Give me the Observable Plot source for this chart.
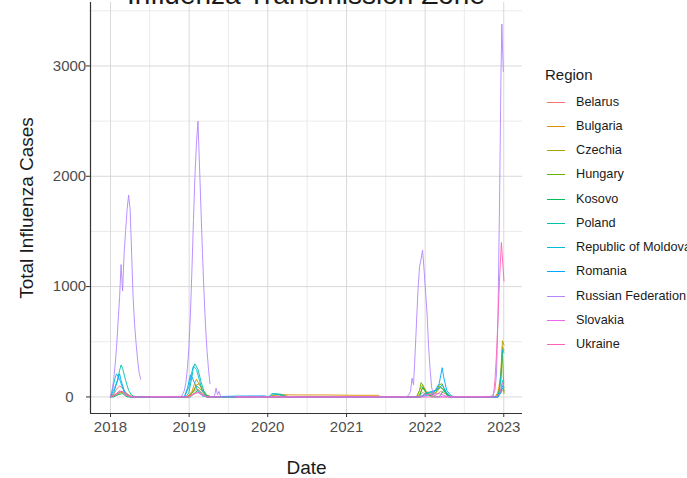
<!DOCTYPE html>
<html>
<head>
<meta charset="utf-8">
<script src="https://cdn.jsdelivr.net/npm/d3@7"></script>
<script src="https://cdn.jsdelivr.net/npm/@observablehq/plot@0.6"></script>
<style>
  html, body { margin: 0; padding: 0; background: #fff; overflow: hidden; }
  #wrap { position: relative; width: 687px; height: 478px; font-family: "Liberation Sans", Arial, sans-serif; }
  #title { position: absolute; left: 0; width: 612px; top: -19px; text-align: center; font-size: 28px; line-height: 28px; color: #1a1a1a; white-space: nowrap; }
  .leg { position: absolute; font-size: 12.7px; line-height: 16px; color: #1a1a1a; white-space: nowrap; }
  .legtitle { position: absolute; font-size: 15px; line-height: 18px; color: #1a1a1a; }
  .key { position: absolute; height: 1px; width: 18px; }
</style>
</head>
<body>
<div id="wrap"><div id="title">Influenza Transmission Zone</div></div>
<script>
const regions = ["Belarus","Bulgaria","Czechia","Hungary","Kosovo","Poland","Republic of Moldova","Romania","Russian Federation","Slovakia","Ukraine"];
const colors = ["#F8766D","#DB8E00","#AEA200","#64B200","#00BD5C","#00C1A7","#00BADE","#00A6FF","#B385FF","#EF67EB","#FF63B6"];
const yearTicks = ["2018-01-01","2019-01-01","2020-01-01","2021-01-01","2022-01-01","2023-01-01"];
const yTicks = [0, 1000, 2000, 3000];

const belarus = [
["2018-01-01",0],["2018-01-15",20],["2018-01-29",70],["2018-02-12",100],["2018-02-26",80],["2018-03-12",40],["2018-03-26",10],["2018-04-16",0],
["2018-12-17",0],["2019-01-07",20],["2019-01-28",60],["2019-02-11",70],["2019-03-04",30],["2019-03-25",5],["2019-04-15",0],
["2021-11-29",0],["2021-12-20",40],["2022-01-10",20],["2022-02-14",10],["2022-03-14",50],["2022-04-04",30],["2022-04-25",0],
["2022-11-28",0],["2022-12-12",20],["2022-12-26",60],["2023-01-02",50]];
const bulgaria = [
["2018-01-01",0],["2018-01-29",20],["2018-02-19",50],["2018-03-12",40],["2018-04-02",10],["2018-04-23",0],
["2018-12-24",0],["2019-01-14",50],["2019-01-28",130],["2019-02-04",160],["2019-02-18",110],["2019-03-04",60],["2019-03-25",15],["2019-04-15",0],
["2020-01-06",0],["2020-02-10",15],["2020-03-16",20],["2020-06-01",18],["2020-10-05",18],["2021-02-01",15],["2021-05-31",15],["2021-06-07",0],
["2021-11-22",0],["2021-12-06",60],["2021-12-20",110],["2022-01-03",60],["2022-01-24",20],["2022-02-21",40],["2022-03-14",90],["2022-04-04",50],["2022-04-25",10],["2022-05-16",0],
["2022-11-21",0],["2022-12-05",40],["2022-12-19",200],["2022-12-26",460],["2023-01-02",420]];
const czechia = [
["2018-01-08",0],["2018-01-29",20],["2018-02-19",40],["2018-03-12",30],["2018-04-02",0],
["2018-12-31",0],["2019-01-21",60],["2019-02-04",110],["2019-02-18",120],["2019-03-04",70],["2019-03-25",15],["2019-04-15",0],
["2020-01-13",0],["2020-02-03",25],["2020-03-09",20],["2020-04-13",0],
["2021-11-29",0],["2021-12-20",80],["2022-01-10",30],["2022-02-07",40],["2022-03-07",100],["2022-03-28",60],["2022-04-18",10],["2022-05-09",0],
["2022-11-28",0],["2022-12-12",80],["2022-12-19",250],["2022-12-26",510],["2023-01-02",470]];
const hungary = [
["2018-01-01",0],["2018-01-22",20],["2018-02-12",50],["2018-03-05",40],["2018-03-26",10],["2018-04-16",0],
["2018-12-31",0],["2019-01-21",50],["2019-02-04",100],["2019-02-18",80],["2019-03-11",30],["2019-04-01",0],
["2021-11-22",0],["2021-12-06",60],["2021-12-13",130],["2021-12-20",110],["2022-01-03",40],["2022-01-24",10],["2022-02-21",40],["2022-03-07",110],["2022-03-21",120],["2022-04-04",50],["2022-04-25",0],
["2022-12-05",0],["2022-12-19",150],["2022-12-26",400],["2023-01-02",30]];
const kosovo = [
["2018-01-01",0],["2018-01-15",0],["2018-02-05",20],["2018-02-26",30],["2018-03-19",0],
["2019-01-07",0],["2019-01-28",40],["2019-02-11",60],["2019-03-04",20],["2019-03-25",0],
["2021-12-06",0],["2021-12-20",90],["2022-01-10",30],["2022-01-31",0],["2022-03-07",0],["2022-03-28",60],["2022-04-18",0],
["2022-12-05",0],["2022-12-26",80],["2023-01-02",60]];
const poland = [
["2018-01-01",0],["2018-01-15",30],["2018-01-29",120],["2018-02-12",240],["2018-02-19",290],["2018-02-26",260],["2018-03-12",150],["2018-03-26",60],["2018-04-09",15],["2018-04-30",0],
["2018-12-17",0],["2018-12-31",40],["2019-01-14",180],["2019-01-21",270],["2019-01-28",300],["2019-02-11",250],["2019-02-25",140],["2019-03-11",50],["2019-03-25",10],["2019-04-15",0],
["2020-01-06",0],["2020-01-27",30],["2020-03-02",25],["2020-03-30",0],
["2021-12-06",0],["2022-01-03",30],["2022-02-14",50],["2022-03-14",90],["2022-04-04",50],["2022-04-25",0],
["2022-11-28",0],["2022-12-19",60],["2022-12-26",150],["2023-01-02",130]];
const moldova = [
["2018-01-01",0],["2018-01-08",50],["2018-01-22",170],["2018-01-29",210],["2018-02-12",160],["2018-02-26",80],["2018-03-12",20],["2018-04-02",0],
["2018-12-10",0],["2018-12-31",90],["2019-01-14",230],["2019-01-21",280],["2019-02-04",250],["2019-02-18",150],["2019-03-04",50],["2019-03-25",0],
["2020-01-06",0],["2020-01-20",30],["2020-02-24",20],["2020-03-23",0],
["2021-12-13",0],["2022-01-10",40],["2022-02-21",60],["2022-03-21",110],["2022-04-11",40],["2022-05-02",0],
["2022-12-05",0],["2022-12-12",60],["2022-12-19",200],["2022-12-26",430],["2023-01-02",400]];
const romania = [
["2018-01-01",0],["2018-01-15",60],["2018-02-05",160],["2018-02-12",210],["2018-02-19",150],["2018-03-05",60],["2018-03-19",10],["2018-04-09",0],
["2018-12-10",0],["2018-12-24",80],["2019-01-07",200],["2019-01-14",180],["2019-01-28",120],["2019-02-11",50],["2019-03-04",10],["2019-03-25",0],
["2019-08-12",8],["2019-12-16",10],["2020-01-06",0],
["2021-12-13",0],["2022-02-07",30],["2022-03-07",120],["2022-03-21",265],["2022-03-28",180],["2022-04-11",60],["2022-05-02",10],["2022-05-23",0],
["2022-12-05",0],["2022-12-19",40],["2022-12-26",100],["2023-01-02",90]];
const russia = [
["2018-01-01",10],["2018-01-08",60],["2018-01-15",150],["2018-01-22",280],["2018-01-29",450],["2018-02-05",680],["2018-02-12",900],["2018-02-19",1200],["2018-02-26",960],["2018-03-05",1300],["2018-03-12",1500],["2018-03-19",1700],["2018-03-26",1830],["2018-04-02",1700],["2018-04-09",1300],["2018-04-16",900],["2018-04-23",650],["2018-04-30",480],["2018-05-07",330],["2018-05-14",220],["2018-05-21",160],
null,
["2018-07-02",2],["2018-11-26",5],["2018-12-03",30],["2018-12-10",60],["2018-12-17",130],["2018-12-24",260],["2018-12-31",450],["2019-01-07",750],["2019-01-14",1150],["2019-01-21",1600],["2019-01-28",2000],["2019-02-04",2300],["2019-02-11",2500],["2019-02-18",2100],["2019-02-25",1700],["2019-03-04",1300],["2019-03-11",950],["2019-03-18",650],["2019-03-25",420],["2019-04-01",250],["2019-04-08",120],
null,
["2019-04-29",10],["2019-05-06",80],["2019-05-13",20],["2019-05-20",50],["2019-05-27",5],
null,
["2019-08-05",0],["2021-10-04",0],["2021-10-11",10],["2021-10-18",20],["2021-10-25",50],["2021-11-01",170],["2021-11-08",110],["2021-11-15",380],["2021-11-22",680],["2021-11-29",980],["2021-12-06",1180],["2021-12-13",1250],["2021-12-20",1330],["2021-12-27",1150],["2022-01-03",950],["2022-01-10",750],["2022-01-17",450],["2022-01-24",250],["2022-01-31",90],["2022-02-07",30],["2022-02-14",10],["2022-03-07",0],
["2022-10-31",5],["2022-11-07",10],["2022-11-14",30],["2022-11-21",60],["2022-11-28",200],["2022-12-05",700],["2022-12-12",1700],["2022-12-19",2900],["2022-12-23",3380],["2022-12-30",2950]];
const slovakia = [
["2018-01-01",0],["2018-01-29",20],["2018-02-19",55],["2018-03-05",40],["2018-03-26",10],["2018-04-16",0],
["2018-12-31",0],["2019-01-28",30],["2019-02-11",45],["2019-03-04",20],["2019-03-25",0],
["2021-12-06",0],["2022-01-03",20],["2022-03-07",30],["2022-04-04",10],["2022-04-25",0],
["2022-11-28",0],["2022-12-12",30],["2022-12-26",120],["2023-01-02",150]];
const ukraine = [
["2018-01-01",0],["2018-01-22",20],["2018-02-12",55],["2018-02-26",40],["2018-03-19",10],["2018-04-09",0],
["2018-12-24",0],["2019-01-21",25],["2019-02-11",40],["2019-03-04",15],["2019-03-25",0],["2019-05-20",0],
null,
["2019-08-05",0],
["2022-11-07",0],["2022-11-14",10],["2022-11-21",150],["2022-11-28",380],["2022-12-05",700],["2022-12-12",1050],["2022-12-21",1400],["2022-12-26",1250],["2023-01-02",1050]];

const seriesList = [belarus, bulgaria, czechia, hungary, kosovo, poland, moldova, romania, russia, slovakia, ukraine];

const rows = regions.flatMap((r, i) => seriesList[i].map(p =>
  p ? {region: r, date: new Date(p[0]), value: p[1]} : {region: r, date: null, value: NaN}));

const xDomain = [new Date("2017-09-30"), new Date("2023-03-29")];
const yDomain = [-150, 3575];
const majorX = yearTicks.map(d => new Date(d));
const minorX = ["2018-07-02","2019-07-02","2020-07-02","2021-07-02","2022-07-02"].map(d => new Date(d));
const minorY = [500, 1500, 2500, 3500];

const chart = Plot.plot({
  width: 687, height: 478,
  marginLeft: 90, marginRight: 165, marginTop: 2, marginBottom: 65,
  style: {fontFamily: "'Liberation Sans', Arial, sans-serif", background: "transparent", overflow: "visible"},
  x: {type: "utc", domain: xDomain},
  y: {domain: yDomain},
  color: {domain: regions, range: colors},
  marks: [
    Plot.ruleY(minorY, {stroke: "#ebebeb", strokeWidth: 1}),
    Plot.ruleX(minorX, {stroke: "#ebebeb", strokeWidth: 1}),
    Plot.ruleY(yTicks, {stroke: "#d9d9d9", strokeWidth: 1}),
    Plot.ruleX(majorX, {stroke: "#d9d9d9", strokeWidth: 1}),
    Plot.line(rows, {x: "date", y: "value", z: "region", stroke: "region", strokeWidth: 1, strokeOpacity: 0.9}),
    Plot.ruleX([xDomain[0]], {stroke: "#333", strokeWidth: 1.2}),
    Plot.ruleY([yDomain[0]], {stroke: "#333", strokeWidth: 1.2}),
    Plot.axisX({ticks: majorX, tickFormat: d3.utcFormat("%Y"), tickSize: 4, tickPadding: 4, fontSize: 15, color: "#4d4d4d", stroke: "#333", label: null}),
    Plot.axisY({ticks: yTicks, tickSize: 4, tickPadding: 17, textAnchor: "middle", fontSize: 15, color: "#4d4d4d", stroke: "#333", label: null, tickFormat: d => String(d)}),
    Plot.text(["Total Influenza Cases"], {frameAnchor: "left", dx: -64, rotate: -90, textAnchor: "middle", lineAnchor: "middle", fontSize: 19, fill: "#1a1a1a"}),
    Plot.text(["Date"], {frameAnchor: "bottom", dy: 54, textAnchor: "middle", lineAnchor: "middle", fontSize: 19, fill: "#1a1a1a"})
  ]
});
chart.style.position = "absolute";
chart.style.left = "0px";
chart.style.top = "0px";
const wrap = document.getElementById("wrap");
wrap.insertBefore(chart, wrap.firstChild);

const lt = document.createElement("div");
lt.className = "legtitle";
lt.textContent = "Region";
lt.style.left = "545px";
lt.style.top = "66px";
wrap.appendChild(lt);
regions.forEach((r, i) => {
  const cy = Math.round(101.7 + i * 24.23);
  const k = document.createElement("div");
  k.className = "key";
  k.style.left = "547px";
  k.style.top = cy + "px";
  k.style.background = colors[i];
  wrap.appendChild(k);
  const t = document.createElement("div");
  t.className = "leg";
  t.textContent = r;
  t.style.left = "576px";
  t.style.top = (cy - 8) + "px";
  wrap.appendChild(t);
});
</script>
</body>
</html>
